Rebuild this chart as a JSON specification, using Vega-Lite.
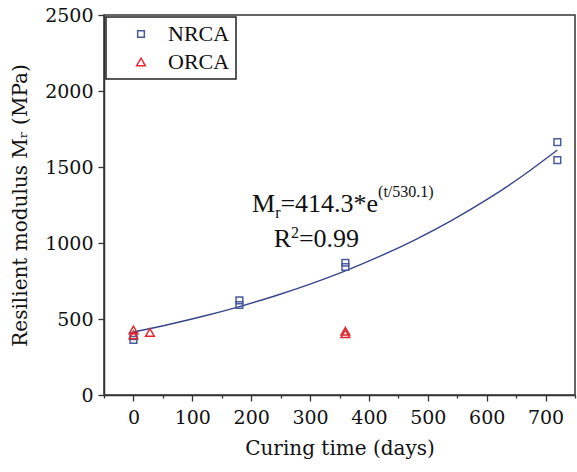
{
  "$schema": "https://vega.github.io/schema/vega-lite/v6.json",
  "width": 471,
  "height": 380,
  "autosize": "none",
  "padding": {"left": 104, "top": 15, "right": 2, "bottom": 77},
  "datasets": {
    "points": [
      {"t": 0, "mr": 362, "series": "NRCA"},
      {"t": 0, "mr": 388, "series": "NRCA"},
      {"t": 180, "mr": 592, "series": "NRCA"},
      {"t": 180, "mr": 622, "series": "NRCA"},
      {"t": 360, "mr": 842, "series": "NRCA"},
      {"t": 360, "mr": 870, "series": "NRCA"},
      {"t": 720, "mr": 1664, "series": "NRCA"},
      {"t": 720, "mr": 1545, "series": "NRCA"},
      {"t": 0, "mr": 428, "series": "ORCA"},
      {"t": 0, "mr": 395, "series": "ORCA"},
      {"t": 28, "mr": 412, "series": "ORCA"},
      {"t": 360, "mr": 403, "series": "ORCA"},
      {"t": 360, "mr": 420, "series": "ORCA"}
    ],
    "fit": [
      {"t": 0, "mr": 414.3},
      {"t": 60, "mr": 463.9},
      {"t": 120, "mr": 519.5},
      {"t": 180, "mr": 581.8},
      {"t": 240, "mr": 651.5},
      {"t": 300, "mr": 729.6},
      {"t": 360, "mr": 817.1},
      {"t": 420, "mr": 915.0},
      {"t": 480, "mr": 1024.6},
      {"t": 540, "mr": 1147.4},
      {"t": 600, "mr": 1284.9},
      {"t": 660, "mr": 1438.9},
      {"t": 720, "mr": 1611.4}
    ],
    "bigText": [
      {"t": 201.5, "mr": 1204, "label": "M"},
      {"t": 249.6, "mr": 1204, "label": "=414.3*e"},
      {"t": 238.2, "mr": 976, "label": "R"},
      {"t": 281.1, "mr": 976, "label": "=0.99"}
    ],
    "smallText": [
      {"t": 240.7, "mr": 1164, "label": "r"},
      {"t": 415.5, "mr": 1303, "label": "(t/530.1)"},
      {"t": 267.6, "mr": 1030, "label": "2"}
    ]
  },
  "encoding": {
    "x": {
      "field": "t",
      "type": "quantitative",
      "scale": {"domain": [-50, 750], "nice": false, "zero": false},
      "axis": {
        "title": "Curing time (days)",
        "values": [-50, 0, 50, 100, 150, 200, 250, 300, 350, 400, 450, 500, 550, 600, 650, 700, 750],
        "labelExpr": "datum.value >= 0 && datum.value % 100 === 0 ? datum.label : ''",
        "tickSize": {"condition": {"test": "datum.value % 100 === 0", "value": 6}, "value": 3},
        "labelFont": "DejaVu Serif",
        "titleFont": "DejaVu Serif",
        "labelPadding": 7,
        "titlePadding": 11
      }
    },
    "y": {
      "field": "mr",
      "type": "quantitative",
      "scale": {"domain": [0, 2500], "nice": false},
      "axis": {
        "title": "Resilient modulus Mᵣ (MPa)",
        "values": [0, 500, 1000, 1500, 2000, 2500],
        "format": "d",
        "tickSize": 6,
        "labelFont": "DejaVu Serif",
        "titleFont": "DejaVu Serif",
        "labelPadding": 5,
        "titlePadding": 14
      }
    }
  },
  "layer": [
    {
      "data": {"name": "fit"},
      "mark": {"type": "line", "color": "#36458c", "strokeWidth": 1.4, "interpolate": "monotone"}
    },
    {
      "data": {"name": "points"},
      "mark": {"type": "point", "filled": false, "strokeWidth": 1.5, "opacity": 1},
      "encoding": {
        "size": {
          "field": "series",
          "type": "nominal",
          "scale": {"domain": ["NRCA", "ORCA"], "range": [45, 75]},
          "legend": null
        },
        "color": {
          "field": "series",
          "type": "nominal",
          "scale": {"domain": ["NRCA", "ORCA"], "range": ["#4b5a9c", "#e3262e"]},
          "legend": {
            "title": null,
            "orient": "top-left",
            "offset": 2,
            "strokeColor": "#222222",
            "padding": 6,
            "symbolOffset": 18,
            "labelOffset": 16,
            "rowPadding": 6,
            "symbolSize": 45,
            "symbolStrokeWidth": 1.5,
            "labelFont": "Liberation Serif",
            "labelFontSize": 22,
            "labelColor": "#111111"
          }
        },
        "shape": {
          "field": "series",
          "type": "nominal",
          "scale": {"domain": ["NRCA", "ORCA"], "range": ["square", "triangle-up"]},
          "legend": {"title": null}
        }
      }
    },
    {
      "data": {"name": "bigText"},
      "mark": {"type": "text", "align": "left", "baseline": "alphabetic", "font": "Liberation Serif", "fontSize": 26, "color": "#111111"},
      "encoding": {"text": {"field": "label"}}
    },
    {
      "data": {"name": "smallText"},
      "mark": {"type": "text", "align": "left", "baseline": "alphabetic", "font": "Liberation Serif", "fontSize": 16, "color": "#111111"},
      "encoding": {"text": {"field": "label"}}
    }
  ],
  "config": {
    "view": {"stroke": "#333333", "strokeWidth": 1.5},
    "legend": {"strokeWidth": 1.5},
    "axis": {
      "grid": false,
      "domainColor": "#333333",
      "domainWidth": 1.5,
      "tickColor": "#333333",
      "tickWidth": 1.3,
      "labelFontSize": 19,
      "labelColor": "#111111",
      "titleFontSize": 20,
      "titleFontWeight": "normal",
      "titleColor": "#111111"
    }
  }
}
